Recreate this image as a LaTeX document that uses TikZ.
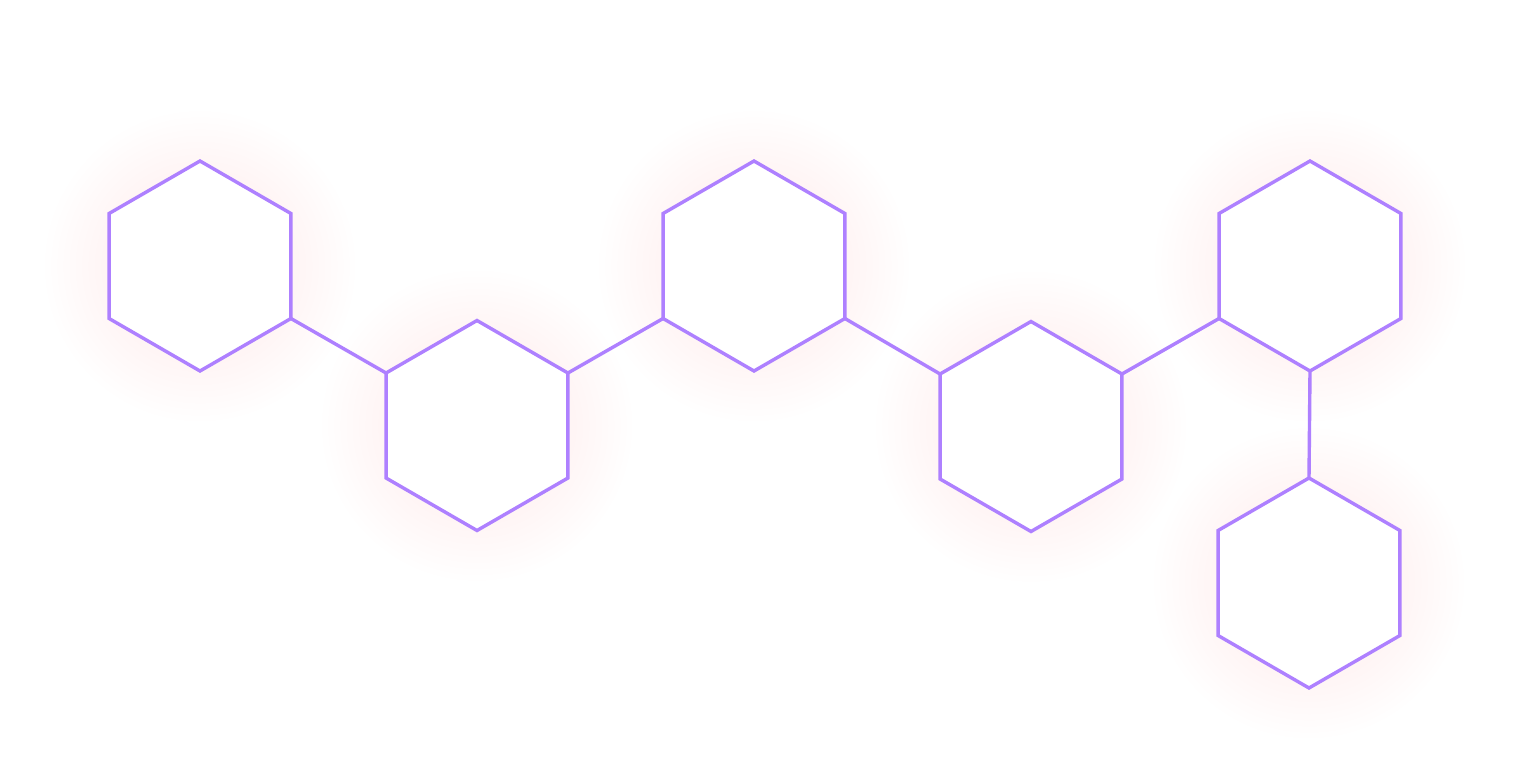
\documentclass[tikz,border=0pt]{standalone}
\usetikzlibrary{shapes.geometric,fadings}
\definecolor{hexline}{RGB}{174,128,255}
\definecolor{glowpink}{RGB}{255,238,238}
\pgfdeclareradialshading{glowsh}{\pgfpointorigin}{color(0bp)=(white); color(13bp)=(white!70!black); color(20bp)=(white!30!black); color(25bp)=(black); color(50bp)=(black)}
\pgfdeclarefading{glowfade}{\pgfuseshading{glowsh}}
\tikzset{
  hexnode/.style={regular polygon, regular polygon sides=6, shape border rotate=30,
    minimum size=210pt, inner sep=0pt, outer sep=0pt, draw=hexline, fill=white, line width=3.4pt},
  link/.style={draw=hexline, line width=3.4pt},
}
\begin{document}
\begin{tikzpicture}[x=1pt,y=-1pt]
\useasboundingbox (0,0) rectangle (1516,766);
\fill[white] (0,0) rectangle (1516,766);
% glows
\foreach \cx/\cy in {200/266, 477/425.5, 754/266, 1031/426.5, 1310/266, 1309/583}{
  \fill[glowpink, path fading=glowfade] (\cx,\cy) circle (155);
}
\node[hexnode] (h1) at (200,266) {};
\node[hexnode] (h2) at (477,425.5) {};
\node[hexnode] (h3) at (754,266) {};
\node[hexnode] (h4) at (1031,426.5) {};
\node[hexnode] (h5) at (1310,266) {};
\node[hexnode] (h6) at (1309,583) {};
\draw[link] (h1.-30) -- (h2.150);
\draw[link] (h2.30) -- (h3.-150);
\draw[link] (h3.-30) -- (h4.150);
\draw[link] (h4.30) -- (h5.-150);
\draw[link] (h5.-90) -- (h6.90);
\end{tikzpicture}
\end{document}
